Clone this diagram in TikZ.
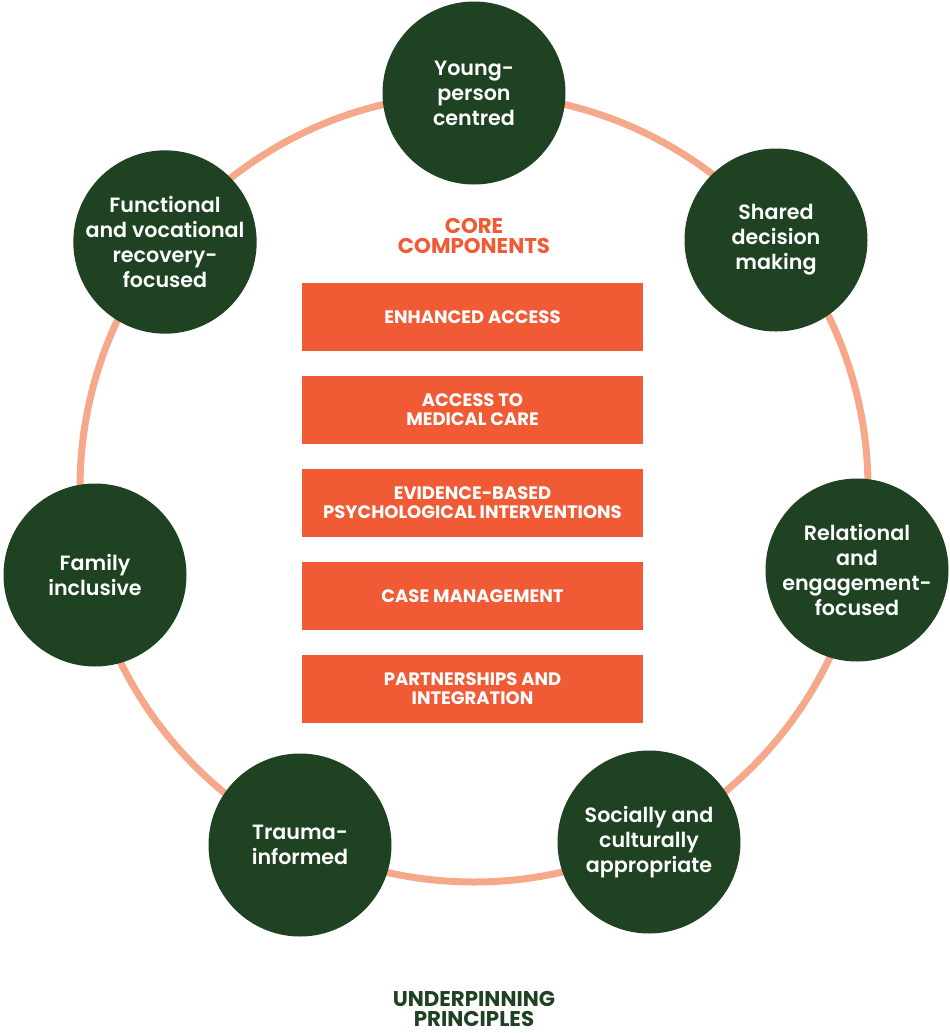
\documentclass[tikz,border=0pt]{standalone}
\usepackage{fontspec}
\setmainfont{Poppins}
\newfontfamily\circfont{Poppins SemiBold}
\usepackage{xcolor}
\definecolor{forest}{HTML}{1E4222}
\definecolor{coral}{HTML}{F05A35}
\definecolor{peach}{HTML}{F6A88A}
\tikzstyle{principle} = [circle, fill=forest, text=white, minimum size=137.25pt, inner sep=0pt, align=center, font=\circfont\fontsize{15.5}{18.75}\selectfont]
\tikzstyle{component} = [rectangle, fill=coral, text=white, minimum width=255.75pt, minimum height=51pt, inner sep=0pt, align=center, font=\bfseries\fontsize{13.5}{14.25}\selectfont]
\tikzstyle{heading} = [align=center, font=\bfseries\fontsize{16}{14.5}\selectfont]
\tikzstyle{ring} = [draw=peach, line width=5.25pt]

\begin{document}
\begin{tikzpicture}[x=0.75pt, y=-0.75pt, node distance=69.75pt]
   \useasboundingbox (0,0) rectangle (950,1033);
   \coordinate (hub) at (474,488);
   \draw [ring] (hub) circle [radius=295.5pt];
   % principles round the ring
   \node (young) [principle] at (474,93) {Young-\\person\\centred};
   \node (shared) [principle] at (776,240) {Shared\\decision\\making};
   \node (relational) [principle] at (857,570) {Relational\\and\\engagement-\\focused};
   \node (social) [principle] at (649,842) {Socially and\\culturally\\appropriate};
   \node (trauma) [principle] at (300,845) {Trauma-\\informed};
   \node (family) [principle] at (95,575) {Family\\inclusive};
   \node (functional) [principle] at (165,242) {Functional\\and vocational\\recovery-\\focused};
   % core components in the middle
   \node (core) [heading, text=coral] at (474,236) {CORE\\COMPONENTS};
   \node (access) [component] at (472.5,317) {ENHANCED ACCESS};
   \node (medical) [component, below of=access] {ACCESS TO\\MEDICAL CARE};
   \node (evidence) [component, below of=medical] {EVIDENCE-BASED\\PSYCHOLOGICAL INTERVENTIONS};
   \node (casemgmt) [component, below of=evidence] {CASE MANAGEMENT};
   \node (partners) [component, below of=casemgmt] {PARTNERSHIPS AND\\INTEGRATION};
   \node (under) [heading, text=forest] at (474,1009) {UNDERPINNING\\PRINCIPLES};
\end{tikzpicture}
\end{document}
